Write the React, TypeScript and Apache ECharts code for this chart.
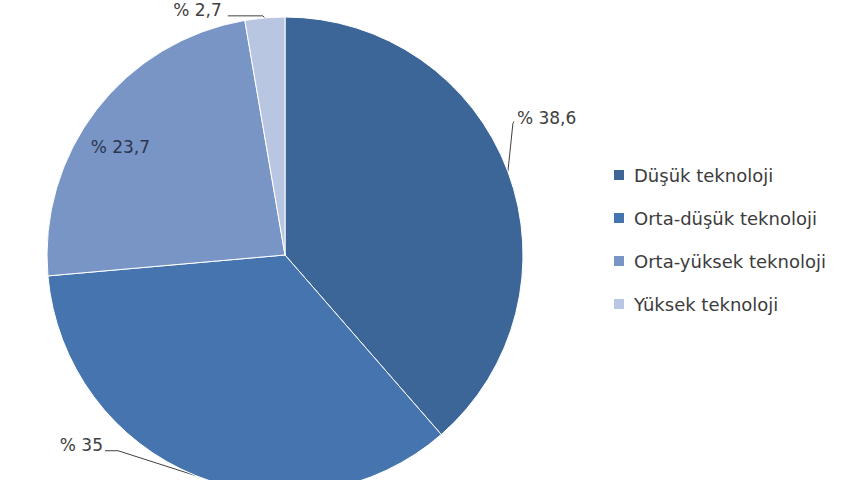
import { useEffect, useRef } from 'react';
import * as echarts from 'echarts';

const categories = ['Düşük teknoloji', 'Orta-düşük teknoloji', 'Orta-yüksek teknoloji', 'Yüksek teknoloji'];
const shares = [38.6, 35, 23.7, 2.7];
const shareLabels = ['% 38,6', '% 35', '% 23,7', '% 2,7'];
const colors = ['#3c6698', '#4574ae', '#7895c5', '#b9c6e2'];

const FONT = '"DejaVu Sans", sans-serif';

export default function App() {
  const ref = useRef<HTMLDivElement>(null);

  useEffect(() => {
    document.body.style.margin = '0';
    const chart = echarts.init(ref.current!, undefined, { renderer: 'svg' });

    chart.setOption({
      animation: false,
      backgroundColor: '#ffffff',
      color: colors,
      legend: {
        orient: 'vertical',
        left: 607,
        top: 161,
        icon: 'rect',
        itemWidth: 12,
        itemHeight: 12,
        itemGap: 25,
        data: categories,
        textStyle: {
          fontSize: 18,
          lineHeight: 18,
          color: '#3c3c3c',
          fontFamily: FONT,
          padding: [0, 0, 0, 4],
        },
      },
      series: [
        {
          type: 'pie',
          center: [285, 255],
          radius: 238,
          startAngle: 90,
          clockwise: true,
          avoidLabelOverlap: false,
          itemStyle: { borderColor: '#ffffff', borderWidth: 1 },
          label: {
            show: true,
            position: 'outside',
            fontSize: 17,
            color: '#404040',
            fontFamily: FONT,
            formatter: (p: any) => shareLabels[p.dataIndex],
          },
          labelLine: { show: true, length: 10, length2: 10, lineStyle: { color: '#404040', width: 1 } },
          labelLayout: (p: any) => {
            if (p.dataIndex === 2) return { dx: -68, dy: -34 };
            const a = p.labelLinePoints ? p.labelLinePoints[0] : null;
            if (!a) return {};
            const [x, y] = a;
            if (p.dataIndex === 0) {
              return {
                x: x + 9, y: y - 54, align: 'left', verticalAlign: 'middle',
                labelLinePoints: [[x, y], [x + 5, y - 48], [x + 6, y - 50]],
              };
            }
            if (p.dataIndex === 1) {
              return {
                x: x - 93, y: y - 31, align: 'right', verticalAlign: 'middle',
                labelLinePoints: [[x, y], [x - 78, y - 25], [x - 91, y - 25]],
              };
            }
            return {
              x: x - 43, y: y - 8, align: 'right', verticalAlign: 'middle',
              labelLinePoints: [[x, y], [x - 2, y - 2], [x - 37, y - 2]],
            };
          },
          data: categories.map((name, i) => ({
            name,
            value: shares[i],
            ...(i === 2
              ? { label: { position: 'inside', color: '#2a3550' }, labelLine: { show: false } }
              : {}),
          })),
        },
      ],
    } as echarts.EChartsOption);

    return () => chart.dispose();
  }, []);

  return <div ref={ref} style={{ width: 860, height: 480 }} />;
}
